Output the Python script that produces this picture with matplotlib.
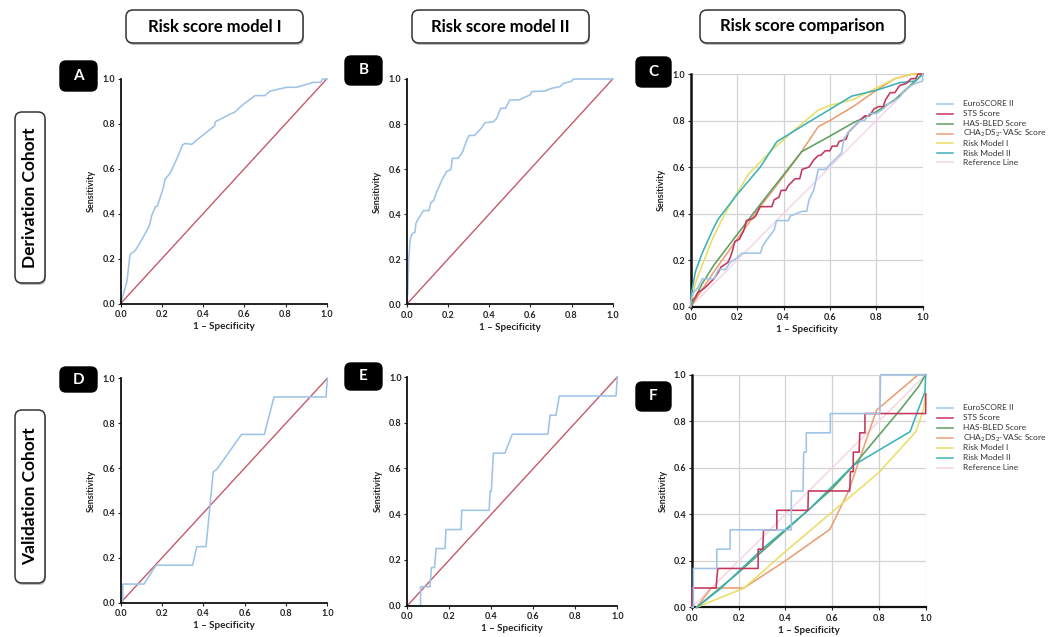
import matplotlib
matplotlib.use("Agg")
import matplotlib.pyplot as plt
from matplotlib.patches import FancyBboxPatch
from matplotlib.lines import Line2D

plt.rcParams['font.family'] = ['Lato', 'DejaVu Sans']
plt.rcParams['mathtext.fontset'] = 'custom'
plt.rcParams['mathtext.rm'] = 'Lato'
plt.rcParams['mathtext.it'] = 'Lato'
plt.rcParams['mathtext.bf'] = 'Lato:bold'

# ---------------- data ----------------
ticks = [0.0, 0.2, 0.4, 0.6, 0.8, 1.0]
tick_labels = ['0.0', '0.2', '0.4', '0.6', '0.8', '1.0']
col_titles = ['Risk score model I', 'Risk score model II', 'Risk score comparison']
row_titles = ['Derivation Cohort', 'Validation Cohort']
panel_letters = ['A', 'B', 'C', 'D', 'E', 'F']
series_names = ['EuroSCORE II', 'STS Score', 'HAS-BLED Score',
                r'CHA$_2$DS$_2$-VASc Score', 'Risk Model I', 'Risk Model II', 'Reference Line']
series_colors = ['#9fc3e7', '#c4365c', '#5e9f62', '#eb9f74', '#e9de66', '#3db2b6', '#f3d3e3']
ref_x = [0.0, 1.0]
ref_y = [0.0, 1.0]

# Panel A: risk model I, derivation
A_fpr = [0, 0.03, 0.045, 0.05, 0.07, 0.10, 0.139, 0.15, 0.168, 0.178, 0.207, 0.215, 0.24, 0.28, 0.30,
         0.312, 0.345, 0.369, 0.45, 0.455, 0.46, 0.539, 0.55, 0.595, 0.652, 0.70, 0.725, 0.806, 0.854,
         0.935, 0.97, 0.98, 1.0]
A_tpr = [0, 0.097, 0.215, 0.222, 0.235, 0.28, 0.346, 0.39, 0.43, 0.434, 0.516, 0.554, 0.58, 0.66, 0.706,
         0.713, 0.709, 0.728, 0.787, 0.79, 0.81, 0.847, 0.85, 0.887, 0.926, 0.926, 0.946, 0.963, 0.963,
         0.985, 0.985, 1.0, 1.0]
# Panel B: risk model II, derivation
B_fpr = [0, 0.005, 0.01, 0.016, 0.02, 0.029, 0.04, 0.045, 0.057, 0.07, 0.081, 0.108, 0.117, 0.13, 0.146,
         0.17, 0.194, 0.21, 0.215, 0.222, 0.25, 0.27, 0.29, 0.303, 0.33, 0.35, 0.364, 0.38, 0.42, 0.437,
         0.456, 0.48, 0.50, 0.545, 0.60, 0.607, 0.672, 0.704, 0.744, 0.76, 0.80, 0.81, 1.0]
B_tpr = [0, 0.05, 0.20, 0.278, 0.30, 0.315, 0.32, 0.36, 0.38, 0.40, 0.416, 0.416, 0.45, 0.46, 0.50,
         0.55, 0.59, 0.595, 0.60, 0.648, 0.648, 0.674, 0.725, 0.749, 0.75, 0.77, 0.784, 0.806, 0.81, 0.825,
         0.87, 0.87, 0.907, 0.907, 0.93, 0.944, 0.947, 0.959, 0.966, 0.98, 0.99, 1.0, 1.0]
# Panel D: risk model I, validation
D_fpr = [0, 0.01, 0.01, 0.113, 0.171, 0.348, 0.368, 0.413, 0.448, 0.465, 0.585, 0.695, 0.742, 0.994, 1.0]
D_tpr = [0, 0, 0.083, 0.083, 0.167, 0.167, 0.25, 0.25, 0.583, 0.594, 0.75, 0.75, 0.917, 0.917, 1.0]
# Panel E: risk model II, validation
E_fpr = [0, 0.063, 0.063, 0.108, 0.115, 0.13, 0.137, 0.18, 0.184, 0.256, 0.259, 0.39, 0.394, 0.40, 0.41,
         0.465, 0.50, 0.67, 0.68, 0.708, 0.724, 0.994, 1.0]
E_tpr = [0, 0, 0.083, 0.083, 0.167, 0.167, 0.25, 0.25, 0.333, 0.333, 0.417, 0.417, 0.5, 0.5, 0.667,
         0.667, 0.75, 0.75, 0.833, 0.833, 0.917, 0.917, 1.0]

# Panel C: comparison, derivation
C_euro_fpr = [0, 0, 0.01, 0.03, 0.05, 0.10, 0.12, 0.15, 0.17, 0.20, 0.22, 0.30, 0.31, 0.33, 0.36, 0.37,
              0.42, 0.43, 0.48, 0.50, 0.51, 0.53, 0.55, 0.58, 0.59, 0.61, 0.63, 0.65, 0.66, 0.68, 0.70,
              0.73, 0.75, 0.77, 0.80, 0.83, 0.85, 0.87, 0.90, 0.92, 0.95, 0.97, 1.0, 1.0]
C_euro_tpr = [0, 0.02, 0.06, 0.08, 0.12, 0.12, 0.16, 0.16, 0.19, 0.21, 0.23, 0.23, 0.26, 0.29, 0.33, 0.37,
              0.37, 0.39, 0.41, 0.41, 0.46, 0.50, 0.59, 0.59, 0.60, 0.62, 0.64, 0.66, 0.72, 0.75, 0.77,
              0.80, 0.80, 0.83, 0.83, 0.85, 0.87, 0.88, 0.90, 0.93, 0.95, 0.96, 0.97, 1.0]
C_sts_fpr = [0, 0, 0.02, 0.03, 0.06, 0.08, 0.10, 0.12, 0.13, 0.16, 0.17, 0.18, 0.19, 0.21, 0.23, 0.24,
             0.27, 0.28, 0.29, 0.30, 0.35, 0.36, 0.38, 0.39, 0.41, 0.42, 0.45, 0.47, 0.48, 0.51, 0.53,
             0.55, 0.56, 0.58, 0.60, 0.61, 0.63, 0.64, 0.67, 0.68, 0.70, 0.72, 0.73, 0.75, 0.77, 0.79,
             0.81, 0.83, 0.84, 0.86, 0.88, 0.90, 0.93, 0.95, 0.97, 0.98, 1.0]
C_sts_tpr = [0, 0.02, 0.04, 0.06, 0.08, 0.10, 0.12, 0.15, 0.17, 0.19, 0.21, 0.24, 0.28, 0.29, 0.33, 0.37,
             0.38, 0.39, 0.41, 0.43, 0.43, 0.46, 0.47, 0.50, 0.50, 0.52, 0.55, 0.55, 0.59, 0.60, 0.63,
             0.65, 0.65, 0.67, 0.67, 0.69, 0.69, 0.71, 0.72, 0.75, 0.77, 0.79, 0.80, 0.82, 0.82, 0.85,
             0.86, 0.86, 0.89, 0.92, 0.92, 0.95, 0.96, 0.98, 0.98, 1.0, 1.0]
C_hasbled_fpr = [0, 0.05, 0.10, 0.20, 0.30, 0.478, 0.60, 0.70, 0.80, 0.88, 1.0]
C_hasbled_tpr = [0, 0.10, 0.179, 0.31, 0.44, 0.666, 0.733, 0.79, 0.838, 0.89, 1.0]
C_cha_fpr = [0, 0.02, 0.10, 0.20, 0.30, 0.40, 0.47, 0.55, 0.60, 0.70, 0.80, 0.88, 0.96, 1.0]
C_cha_tpr = [0, 0.03, 0.15, 0.29, 0.43, 0.56, 0.655, 0.774, 0.80, 0.86, 0.93, 0.98, 1.0, 1.0]
C_rm1_fpr = [0, 0.02, 0.055, 0.095, 0.148, 0.195, 0.249, 0.35, 0.45, 0.55, 0.60, 0.70, 0.80, 0.88, 0.95, 1.0]
C_rm1_tpr = [0, 0.10, 0.193, 0.294, 0.40, 0.48, 0.57, 0.673, 0.762, 0.845, 0.865, 0.89, 0.94, 0.98, 1.0, 1.0]
C_rm2_fpr = [0, 0.02, 0.049, 0.098, 0.119, 0.198, 0.30, 0.371, 0.50, 0.60, 0.694, 0.80, 0.902, 0.97, 1.0]
C_rm2_tpr = [0.04, 0.15, 0.229, 0.337, 0.377, 0.48, 0.60, 0.709, 0.788, 0.848, 0.905, 0.93, 0.963, 0.97, 1.0]

# Panel F: comparison, validation
F_euro_fpr = [0, 0.006, 0.006, 0.106, 0.106, 0.163, 0.163, 0.425, 0.425, 0.475, 0.478, 0.489, 0.489,
              0.592, 0.592, 0.804, 0.807, 1.0]
F_euro_tpr = [0, 0, 0.167, 0.167, 0.25, 0.25, 0.333, 0.333, 0.5, 0.5, 0.667, 0.667, 0.75,
              0.75, 0.833, 0.833, 1.0, 1.0]
F_sts_fpr = [0, 0.0, 0.103, 0.11, 0.283, 0.283, 0.303, 0.306, 0.363, 0.363, 0.496, 0.498, 0.675, 0.678,
             0.69, 0.69, 0.715, 0.718, 0.74, 0.74, 1.0, 1.0]
F_sts_tpr = [0, 0.083, 0.083, 0.167, 0.167, 0.25, 0.25, 0.333, 0.333, 0.417, 0.417, 0.5, 0.5, 0.583,
             0.583, 0.667, 0.667, 0.75, 0.75, 0.833, 0.833, 0.917]
F_hasbled_fpr = [0.02, 0.20, 0.40, 0.50, 0.60, 0.70, 0.80, 0.90, 0.97, 1.0]
F_hasbled_tpr = [0, 0.15, 0.33, 0.42, 0.51, 0.62, 0.74, 0.86, 0.95, 1.0]
F_cha_fpr = [0.02, 0.082, 0.222, 0.40, 0.59, 0.67, 0.79, 0.968, 1.0]
F_cha_tpr = [0, 0.083, 0.083, 0.20, 0.335, 0.50, 0.848, 1.0, 1.0]
F_rm1_fpr = [0.02, 0.222, 0.40, 0.60, 0.80, 0.958, 0.99, 1.0]
F_rm1_tpr = [0, 0.082, 0.24, 0.41, 0.58, 0.755, 0.85, 0.92]
F_rm2_fpr = [0.02, 0.124, 0.30, 0.50, 0.69, 0.933, 0.997, 1.0]
F_rm2_tpr = [0, 0.082, 0.25, 0.42, 0.61, 0.755, 0.927, 1.0]

single_color = '#9fc3e7'
diag_color = '#c55a6c'

# ---------------- layout helpers ----------------
W, H = 1049, 637
fig = plt.figure(figsize=(W / 100, H / 100), dpi=100)


def add_ax(x0, ytop, x1, ybot):
    return fig.add_axes([x0 / W, 1 - ybot / H, (x1 - x0) / W, (ybot - ytop) / H])


def style_ax(ax, grid=False):
    ax.set_xlim(0, 1)
    ax.set_ylim(0, 1)
    ax.set_xticks(ticks)
    ax.set_yticks(ticks)
    ax.set_xticklabels(tick_labels, fontsize=6.5, fontweight='bold', color='#222222')
    ax.set_yticklabels(tick_labels, fontsize=6.5, fontweight='bold', color='#222222')
    ax.tick_params(length=2, width=0.8, pad=2, colors='#222222')
    ax.tick_params(axis='x', pad=2.5)
    for s in ['top', 'right']:
        ax.spines[s].set_visible(False)
    for s in ['left', 'bottom']:
        ax.spines[s].set_linewidth(1.3)
        ax.spines[s].set_color('#111111')
    if grid:
        ax.grid(True, color='#d2d2d2', linewidth=0.9)
        ax.set_axisbelow(True)
    ax.set_xlabel('1 \u2013 Specificity', fontsize=7, fontweight='bold', color='#222222')
    ax.set_ylabel('Sensitivity', fontsize=6.5, fontweight='bold', color='#222222')
    bb = ax.get_position()
    hpx = bb.height * H
    wpx = bb.width * W
    ax.xaxis.set_label_coords(0.5, -23 / hpx)
    ax.xaxis.label.set_va('center')
    ax.yaxis.set_label_coords(-29 / wpx, 0.5)
    ax.yaxis.label.set_va('center')


def panel_letter(letter, x0, y0, x1, y1):
    p = FancyBboxPatch((x0 / 100, (H - y1) / 100), (x1 - x0) / 100, (y1 - y0) / 100,
                       boxstyle='round,pad=0,rounding_size=0.06', transform=fig.dpi_scale_trans,
                       facecolor='black', edgecolor='black')
    fig.add_artist(p)
    fig.text((x0 + x1) / 2 / W, 1 - (y0 + y1) / 2 / H, letter, color='white', fontsize=11,
             fontweight='bold', ha='center', va='center')


def title_box(text, x0, y0, x1, y1, rotation=0, fs=12):
    sh = FancyBboxPatch(((x0 + 1) / 100, (H - y1 - 2) / 100), (x1 - x0) / 100, (y1 - y0) / 100,
                        boxstyle='round,pad=0,rounding_size=0.07', transform=fig.dpi_scale_trans,
                        facecolor='#bdbdbd', edgecolor='none')
    fig.add_artist(sh)
    p = FancyBboxPatch((x0 / 100, (H - y1) / 100), (x1 - x0) / 100, (y1 - y0) / 100,
                       boxstyle='round,pad=0,rounding_size=0.07', transform=fig.dpi_scale_trans,
                       facecolor='white', edgecolor='#333333', linewidth=1.1)
    fig.add_artist(p)
    fig.text((x0 + x1) / 2 / W, 1 - (y0 + y1) / 2 / H, text, color='black', fontsize=fs,
             fontweight='bold', ha='center', va='center', rotation=rotation)


# ---------------- single-model panels ----------------
single = [
    ((120.7, 79, 326.7, 303.5), A_fpr, A_tpr),
    ((406.7, 79, 612.7, 304.3), B_fpr, B_tpr),
    ((120.7, 378.3, 327.3, 602.7), D_fpr, D_tpr),
    ((407.3, 377, 617.3, 605.7), E_fpr, E_tpr),
]
for pos, fx, ty in single:
    ax = add_ax(*pos)
    style_ax(ax)
    ax.plot(ref_x, ref_y, color=diag_color, linewidth=1.0, clip_on=False)
    ax.plot(fx, ty, color=single_color, linewidth=1.15, clip_on=False)

# ---------------- comparison panels ----------------
comp = [
    ((690.7, 74, 922.7, 306.7),
     [(C_euro_fpr, C_euro_tpr), (C_sts_fpr, C_sts_tpr), (C_hasbled_fpr, C_hasbled_tpr),
      (C_cha_fpr, C_cha_tpr), (C_rm1_fpr, C_rm1_tpr), (C_rm2_fpr, C_rm2_tpr)],
     [104, 114, 123.5, 133.5, 143, 153, 162.5]),
    ((692, 374.7, 925.7, 607.3),
     [(F_euro_fpr, F_euro_tpr), (F_sts_fpr, F_sts_tpr), (F_hasbled_fpr, F_hasbled_tpr),
      (F_cha_fpr, F_cha_tpr), (F_rm1_fpr, F_rm1_tpr), (F_rm2_fpr, F_rm2_tpr)],
     [408, 418, 428, 438, 448, 458, 467.5]),
]
for pos, curves, leg_rows in comp:
    ax = add_ax(*pos)
    style_ax(ax, grid=True)
    ax.spines['left'].set_linewidth(1.8)
    ax.spines['bottom'].set_linewidth(1.6)
    ax.plot(ref_x, ref_y, color=series_colors[6], linewidth=1.0, clip_on=False, zorder=2)
    order = [3, 4, 2, 5, 1, 0]
    for i in order:
        fx, ty = curves[i]
        ax.plot(fx, ty, color=series_colors[i], linewidth=1.15, clip_on=False, zorder=3)
    for i, (name, col) in enumerate(zip(series_names, series_colors)):
        yy = 1 - leg_rows[i] / H
        fig.add_artist(Line2D([937 / W, 953 / W], [yy, yy], color=col, linewidth=1.1))
        fig.text(963 / W, yy, name, fontsize=6, color='#333333', ha='left', va='center')

# ---------------- panel letters ----------------
panel_letter('A', 60, 61, 97, 91)
panel_letter('B', 345, 56, 382, 85)
panel_letter('C', 636, 57, 671, 87)
panel_letter('D', 60, 367, 97, 392)
panel_letter('E', 345, 363, 382, 390)
panel_letter('F', 636, 382, 671, 411)

# ---------------- column / row title boxes ----------------
title_box(col_titles[0], 126, 10, 303, 43)
title_box(col_titles[1], 412, 10, 589, 43)
title_box(col_titles[2], 700, 10, 905, 43)
title_box(row_titles[0], 15, 112, 45, 283, rotation=90, fs=12.5)
title_box(row_titles[1], 15, 410, 45, 583, rotation=90, fs=12.5)

fig.savefig('out.png', dpi=100, facecolor='white')
